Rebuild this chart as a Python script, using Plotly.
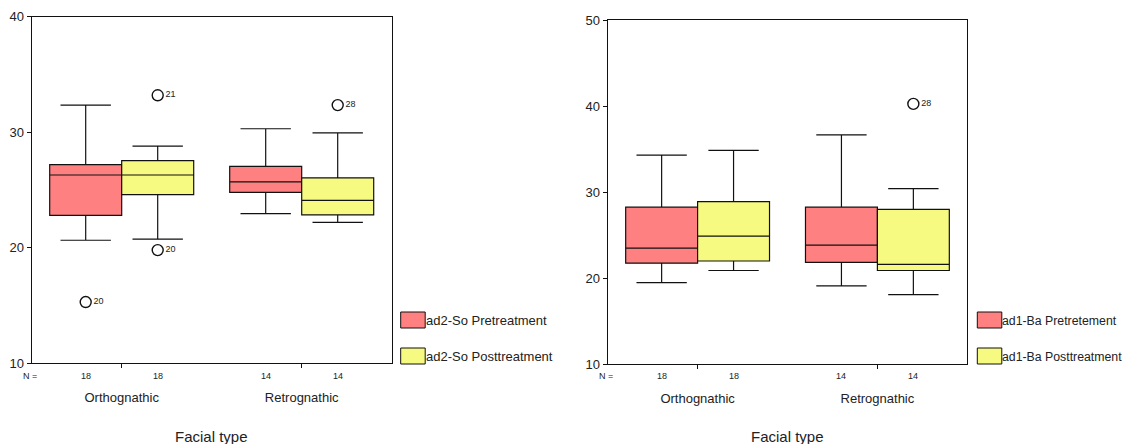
import plotly.graph_objects as go

# ---------------- data ----------------
categories = ["Orthognathic", "Retrognathic"]
n_counts = [18, 14]

# Left panel: ad2-So
so_pre_q1 = [22.8, 24.8]
so_pre_median = [26.3, 25.7]
so_pre_q3 = [27.2, 27.05]
so_pre_low = [20.65, 22.95]
so_pre_high = [32.35, 30.3]

so_post_q1 = [24.6, 22.85]
so_post_median = [26.3, 24.1]
so_post_q3 = [27.55, 26.05]
so_post_low = [20.75, 22.2]
so_post_high = [28.8, 29.95]

so_pre_out_cat = [0]
so_pre_out_val = [15.3]
so_pre_out_lab = ["20"]
so_post_out_cat = [0, 0, 1]
so_post_out_val = [33.2, 19.8, 32.35]
so_post_out_lab = ["21", "20", "28"]

# Right panel: ad1-Ba
ba_pre_q1 = [21.75, 21.85]
ba_pre_median = [23.5, 23.85]
ba_pre_q3 = [28.25, 28.25]
ba_pre_low = [19.5, 19.1]
ba_pre_high = [34.3, 36.65]

ba_post_q1 = [22.0, 20.9]
ba_post_median = [24.9, 21.6]
ba_post_q3 = [28.9, 28.0]
ba_post_low = [20.9, 18.1]
ba_post_high = [34.85, 30.4]

ba_pre_out_cat = []
ba_pre_out_val = []
ba_pre_out_lab = []
ba_post_out_cat = [1]
ba_post_out_val = [40.25]
ba_post_out_lab = ["28"]

left_names = ["ad2-So Pretreatment", "ad2-So Posttreatment"]
right_names = ["ad1-Ba Pretretement", "ad1-Ba Posttreatment"]

# ---------------- style ----------------
PRE_COLOR = "#FF8080"
POST_COLOR = "#F7FA80"
FONT = "Liberation Sans, Arial, sans-serif"
TXT = "#222222"
OFFSETS = [-0.2, 0.2]
BOX_W = 0.4

fig = go.Figure()


def add_panel(xa, ya, series, outliers):
    for k, (q1, med, q3, lo, hi, color) in enumerate(series):
        pos = [i + OFFSETS[k] for i in range(len(categories))]
        fig.add_trace(go.Box(
            x=pos, q1=q1, median=med, q3=q3, lowerfence=lo, upperfence=hi,
            width=BOX_W, whiskerwidth=0.7, fillcolor=color,
            line=dict(color="#111111", width=1.2), boxpoints=False,
            showlegend=False, hoverinfo="skip", xaxis=xa, yaxis=ya))
    for k, (cats, vals, labs) in enumerate(outliers):
        if not vals:
            continue
        fig.add_trace(go.Scatter(
            x=[c + OFFSETS[k] for c in cats], y=vals, text=labs,
            mode="markers+text", textposition="middle right",
            textfont=dict(family=FONT, size=9, color=TXT),
            marker=dict(symbol="circle-open", size=11,
                        line=dict(color="#111111", width=1.4), color="#111111"),
            showlegend=False, hoverinfo="skip", xaxis=xa, yaxis=ya))


add_panel("x", "y",
          [(so_pre_q1, so_pre_median, so_pre_q3, so_pre_low, so_pre_high, PRE_COLOR),
           (so_post_q1, so_post_median, so_post_q3, so_post_low, so_post_high, POST_COLOR)],
          [(so_pre_out_cat, so_pre_out_val, so_pre_out_lab),
           (so_post_out_cat, so_post_out_val, so_post_out_lab)])
add_panel("x2", "y2",
          [(ba_pre_q1, ba_pre_median, ba_pre_q3, ba_pre_low, ba_pre_high, PRE_COLOR),
           (ba_post_q1, ba_post_median, ba_post_q3, ba_post_low, ba_post_high, POST_COLOR)],
          [(ba_pre_out_cat, ba_pre_out_val, ba_pre_out_lab),
           (ba_post_out_cat, ba_post_out_val, ba_post_out_lab)])

# page offset (body margin) compensation
PAGE_OFF = 8
W, H = 1131 - PAGE_OFF, 444 - PAGE_OFF


def px(x):
    return (x - PAGE_OFF) / W


def py(y):
    return 1 - (y - PAGE_OFF) / H


L_DOM_X = [px(31.7), px(391.7)]
L_DOM_Y = [py(363.3), py(16.7)]
R_DOM_X = [px(607.7), px(967.3)]
R_DOM_Y = [py(364.3), py(20)]


def xaxis(dom, anchor):
    return dict(domain=dom, anchor=anchor, range=[-0.5, len(categories) - 0.5],
                tickvals=list(range(len(categories))), ticktext=categories,
                ticks="outside", ticklen=4, tickcolor="#111111", tickwidth=1,
                ticklabelstandoff=18, automargin=False,
                showline=True, linecolor="#111111", linewidth=1.3, mirror=True,
                showgrid=False, zeroline=False,
                tickfont=dict(family=FONT, size=13, color=TXT))


def yaxis(dom, anchor, top):
    return dict(domain=dom, anchor=anchor, range=[10, top], dtick=10,
                ticks="outside", ticklen=4, tickcolor="#111111", tickwidth=1,
                automargin=False,
                showline=True, linecolor="#111111", linewidth=1.3, mirror=True,
                showgrid=False, zeroline=False,
                tickfont=dict(family=FONT, size=13, color=TXT))


annotations = []
shapes = []
for xref, names, leg_x, leg_fs in [("x", left_names, 400.7, 13),
                                   ("x2", right_names, 977.3, 12.3)]:
    # N counts
    annotations.append(dict(text="N =", xref=xref + " domain", yref="paper",
                            x=0, y=py(375.7), xshift=-2, showarrow=False,
                            xanchor="center", yanchor="middle",
                            font=dict(family=FONT, size=9, color=TXT)))
    for i, n in enumerate(n_counts):
        for off in OFFSETS:
            annotations.append(dict(text=str(n), xref=xref, yref="paper",
                                    x=i + off, y=py(375.7), showarrow=False,
                                    xanchor="center", yanchor="middle",
                                    font=dict(family=FONT, size=9, color=TXT)))
    annotations.append(dict(text="Facial type", xref=xref + " domain", yref="paper",
                            x=0.5, y=py(436), showarrow=False,
                            xanchor="center", yanchor="middle",
                            font=dict(family=FONT, size=15, color=TXT)))
    # legend
    for k, (nm, col) in enumerate(zip(names, [PRE_COLOR, POST_COLOR])):
        top = 312 + k * 36
        shapes.append(dict(type="rect", xref="paper", yref="paper",
                           x0=px(leg_x), x1=px(leg_x + 24.5),
                           y0=py(top + 16), y1=py(top),
                           fillcolor=col, line=dict(color="#111111", width=1)))
        annotations.append(dict(text=nm, xref="paper", yref="paper",
                                x=px(leg_x + 25), y=py(top + 8.5),
                                showarrow=False, xanchor="left", yanchor="middle",
                                xshift=-2,
                                font=dict(family=FONT, size=leg_fs, color=TXT)))

fig.update_layout(
    width=W, height=H, margin=dict(l=0, r=0, t=0, b=0, autoexpand=False),
    paper_bgcolor="white", plot_bgcolor="white",
    xaxis=xaxis(L_DOM_X, "y"), yaxis=yaxis(L_DOM_Y, "x", 40),
    xaxis2=xaxis(R_DOM_X, "y2"), yaxis2=yaxis(R_DOM_Y, "x2", 50),
    annotations=annotations, shapes=shapes, showlegend=False,
)

fig.write_html("out.html")
